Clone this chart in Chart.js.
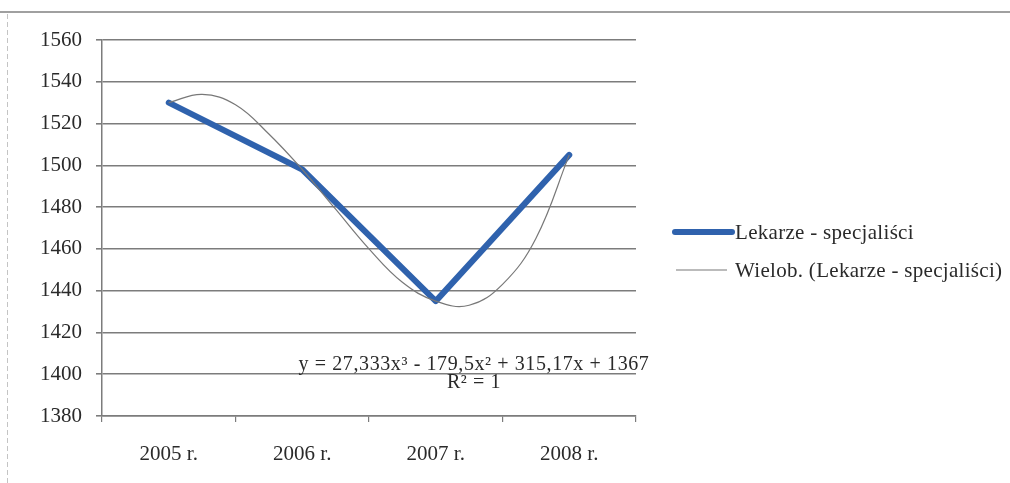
<!DOCTYPE html>
<html>
<head>
<meta charset="utf-8">
<script src="https://cdn.jsdelivr.net/npm/chart.js@4/dist/chart.umd.min.js"></script>
<style>
  html, body { margin: 0; padding: 0; background: #fff; }
  #wrap { width: 1010px; height: 483px; position: relative; }
</style>
</head>
<body>
<div id="wrap"><canvas id="c" width="1010" height="483"></canvas></div>
<script>
// Liczba lekarzy specjalistów w latach 2005–2008
const categories = ['2005 r.', '2006 r.', '2007 r.', '2008 r.'];
const specialists = [1530, 1498, 1435, 1505];

// Linia trendu wielomianowego (odczytane punkty krzywej, x = numer roku)
const trendX = [1, 1.25, 1.5, 1.75, 2, 2.25, 2.5, 2.75, 3, 3.25, 3.5, 3.75, 4];
const trendY = [1530, 1534, 1529, 1515, 1498, 1479, 1460, 1444, 1435, 1433, 1443, 1465, 1505];

const yMin = 1380, yMax = 1560, yStep = 20;

const seriesName = 'Lekarze - specjaliści';
const trendName = 'Wielob. (Lekarze - specjaliści)';
const equationText = 'y = 27,333x³ - 179,5x² + 315,17x + 1367';
const r2Text = 'R² = 1';

const BLUE = '#2f62ad';
const TREND = '#787878';
const GRID = '#7c7c7c';
const TEXT = '#2a2a2a';
const FONT = '"Liberation Serif", "DejaVu Serif", serif';

// Ramka strony, równanie trendu i legenda
const decor = {
  id: 'decor',
  beforeDraw(chart) {
    const ctx = chart.ctx;
    ctx.save();
    ctx.fillStyle = '#fff';
    ctx.fillRect(0, 0, chart.width, chart.height);
    ctx.strokeStyle = '#a0a0a0';
    ctx.lineWidth = 2;
    ctx.beginPath();
    ctx.moveTo(0, 12); ctx.lineTo(chart.width, 12);
    ctx.stroke();
    ctx.strokeStyle = '#c4c4c4';
    ctx.lineWidth = 1;
    ctx.setLineDash([5, 3]);
    ctx.beginPath();
    ctx.moveTo(7.5, 14); ctx.lineTo(7.5, chart.height);
    ctx.stroke();
    ctx.restore();
  },
  afterDatasetsDraw(chart) {
    const ctx = chart.ctx;
    const area = chart.chartArea;
    ctx.save();
    ctx.fillStyle = TEXT;
    ctx.font = '20px ' + FONT;
    ctx.letterSpacing = '0.6px';
    ctx.textAlign = 'center';
    ctx.textBaseline = 'middle';
    const cx = area.left + 372;
    ctx.fillText(equationText, cx, area.top + 325);
    ctx.fillText(r2Text, cx, area.top + 343);

    // legenda
    const lx = area.right + 39;
    ctx.textAlign = 'left';
    ctx.font = '21px ' + FONT;
    ctx.letterSpacing = '0.3px';
    ctx.strokeStyle = BLUE;
    ctx.lineWidth = 6;
    ctx.lineCap = 'round';
    ctx.beginPath();
    ctx.moveTo(lx, area.top + 192); ctx.lineTo(lx + 57, area.top + 192);
    ctx.stroke();
    ctx.fillText(seriesName, lx + 60, area.top + 193);

    ctx.strokeStyle = TREND;
    ctx.lineWidth = 1.2;
    ctx.lineCap = 'butt';
    ctx.beginPath();
    ctx.moveTo(lx + 1, area.top + 230); ctx.lineTo(lx + 52, area.top + 230);
    ctx.stroke();
    ctx.fillText(trendName, lx + 60, area.top + 231);
    ctx.restore();
  }
};

new Chart(document.getElementById('c'), {
  type: 'line',
  data: {
    labels: categories,
    datasets: [
      {
        label: trendName,
        data: trendX.map((x, i) => ({ x: x, y: trendY[i] })),
        xAxisID: 'xt',
        borderColor: TREND,
        borderWidth: 1.2,
        pointRadius: 0,
        tension: 0.4,
        fill: false,
        order: 0
      },
      {
        label: seriesName,
        data: specialists,
        xAxisID: 'x',
        borderColor: BLUE,
        borderWidth: 6,
        borderJoinStyle: 'round',
        borderCapStyle: 'round',
        pointRadius: 0,
        tension: 0,
        fill: false,
        order: 1
      }
    ]
  },
  options: {
    responsive: false,
    animation: false,
    layout: { padding: { top: 40, right: 374, left: 0, bottom: 0 } },
    plugins: { legend: { display: false }, tooltip: { enabled: false } },
    scales: {
      x: {
        type: 'category',
        offset: true,
        grid: { display: true, offset: true, drawOnChartArea: false, drawTicks: true, tickLength: 6, color: GRID, lineWidth: 1.2 },
        border: { display: true, color: GRID, width: 1.5 },
        ticks: { color: TEXT, font: { family: FONT, size: 21 }, padding: 20, maxRotation: 0 },
        afterFit(scale) { scale.height = 67; }
      },
      xt: {
        type: 'linear',
        display: false,
        min: 0.5,
        max: 4.5
      },
      y: {
        min: yMin,
        max: yMax,
        grid: { color: GRID, lineWidth: 1.6, drawTicks: true, tickLength: 6 },
        border: { display: true, color: GRID, width: 1.5 },
        ticks: {
          stepSize: yStep,
          color: TEXT,
          font: { family: FONT, size: 21 },
          padding: 14,
          callback: (v) => String(v)
        },
        afterFit(scale) { scale.width = 102; }
      }
    }
  },
  plugins: [decor]
});
</script>
</body>
</html>
